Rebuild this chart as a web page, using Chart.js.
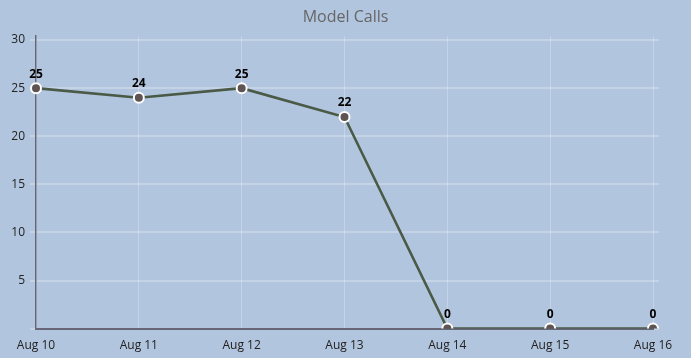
<!DOCTYPE html>
<html>
<head>
<meta charset="utf-8">
<script src="https://cdn.jsdelivr.net/npm/chart.js@4/dist/chart.umd.min.js"></script>
<style>
html,body{margin:0;padding:0;background:#b2c5de;}
#wrap{width:691px;height:358px;position:relative;}
</style>
</head>
<body>
<div id="wrap"><canvas id="c" width="691" height="358"></canvas></div>
<script>
const categories = ["Aug 10","Aug 11","Aug 12","Aug 13","Aug 14","Aug 15","Aug 16"];
const calls = [25,24,25,22,0,0,0];
const yTicks = [5,10,15,20,25,30];

const valueLabels = {
  id:'valueLabels',
  afterDatasetsDraw(chart){
    const ctx = chart.ctx;
    const meta = chart.getDatasetMeta(0);
    ctx.save();
    ctx.font = 'bold 12px "Open Sans"';
    ctx.fillStyle = '#000';
    ctx.textAlign = 'center';
    ctx.textBaseline = 'bottom';
    meta.data.forEach((pt,i)=>{
      ctx.fillText(String(calls[i]), pt.x, pt.y - 8);
    });
    ctx.restore();
  }
};

const gridCol = 'rgba(255,255,255,0.25)';

new Chart(document.getElementById('c'),{
  type:'line',
  data:{labels:categories,datasets:[{
    label:'Model Calls',
    data:calls,
    borderColor:'#4a5a46',
    borderWidth:2.6,
    tension:0,
    pointRadius:5,
    pointBackgroundColor:'#5e5454',
    pointBorderColor:'#ffffff',
    pointBorderWidth:2
  }]},
  options:{
    responsive:false,
    animation:false,
    layout:{padding:{left:0,right:0,top:0,bottom:-5}},
    plugins:{
      legend:{display:false},
      tooltip:{enabled:false},
      title:{display:true,text:'Model Calls',color:'#666',font:{family:'"Open Sans"',size:16,weight:'normal'},padding:{top:8,bottom:9}}
    },
    scales:{
      x:{
        offset:false,
        grid:{color:gridCol,lineWidth:1,drawTicks:false},
        border:{display:true,color:'#667',width:2},
        ticks:{color:'#222',font:{family:'"Open Sans"',size:12},padding:10,maxRotation:0}
      },
      y:{
        min:0,max:30.4,
        afterFit:(s)=>{s.width=36;},
        grid:{color:gridCol,lineWidth:2,tickLength:6},
        border:{display:true,color:'#667',width:1.5},
        ticks:{stepSize:5,includeBounds:false,color:'#222',font:{family:'"Open Sans"',size:12},padding:5,
          callback:(v)=> yTicks.includes(v) ? String(v) : ''}
      },
      y2:{
        position:'right',
        min:0,max:30.4,
        afterFit:(s)=>{s.width=38;},
        grid:{color:gridCol,lineWidth:2,tickLength:6,drawOnChartArea:false},
        border:{display:false},
        ticks:{stepSize:5,includeBounds:false,color:'rgba(0,0,0,0)',font:{size:12},
          callback:(v)=> (yTicks.includes(v) ? String(v) : '')}
      }
    }
  },
  plugins:[valueLabels]
});
</script>
</body>
</html>
